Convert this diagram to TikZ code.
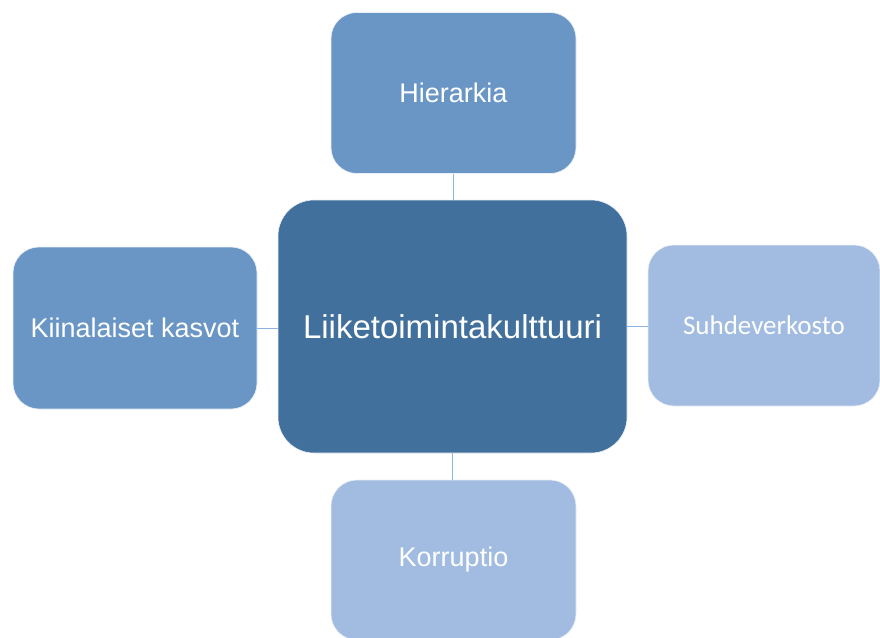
\documentclass[tikz,border=0pt]{standalone}
\usepackage{fontspec}
\setmainfont{Liberation Sans}
\newfontfamily\calibrifont{Carlito}
\definecolor{midblue}{RGB}{106,150,198}
\definecolor{darkblue}{RGB}{65,112,156}
\definecolor{lightblue}{RGB}{161,188,224}
\definecolor{linkblue}{RGB}{141,179,226}
\begin{document}
\begin{tikzpicture}[x=1pt,y=-1pt,
  boxbase/.style={rectangle, rounded corners=26pt, inner sep=0pt, draw=white!85!midblue, line width=0.6pt, text=white, align=center},
  sidebox/.style={boxbase, minimum width=245pt, minimum height=161pt},
  midbox/.style={boxbase, fill=midblue},
  lightbox/.style={boxbase, fill=lightblue},
  centerbox/.style={boxbase, fill=darkblue, rounded corners=36pt, minimum width=349pt, minimum height=253pt, font=\fontsize{33}{38}\selectfont},
  link/.style={draw=linkblue, line width=1pt}
]
\useasboundingbox (0,0) rectangle (880,637);
\fill[white] (0,0) rectangle (880,637);
\node[centerbox] (c) at (452.5,326.5) {Liiketoimintakulttuuri};
\node[sidebox, midbox, font=\fontsize{27}{32}\selectfont] (t) at (453.5,93) {Hierarkia};
\node[sidebox, midbox, minimum width=244pt, minimum height=162pt, font=\fontsize{27}{32}\selectfont] (l) at (135,328) {Kiinalaiset kasvot};
\node[sidebox, lightbox, minimum width=232pt, minimum height=161pt, font=\calibrifont\fontsize{27}{32}\selectfont] (r) at (764,325.5) {Suhdeverkosto};
\node[sidebox, lightbox, minimum height=160pt, font=\fontsize{27}{32}\selectfont] (b) at (453.5,560) {Korruptio};
\draw[link] (t.south) -- (t.south |- c.north);
\draw[link] (l.east) -- (l.east -| c.west);
\draw[link] (c.east) -- (c.east -| r.west);
\draw[link] (c.south) -- (c.south |- b.north);
\end{tikzpicture}
\end{document}
